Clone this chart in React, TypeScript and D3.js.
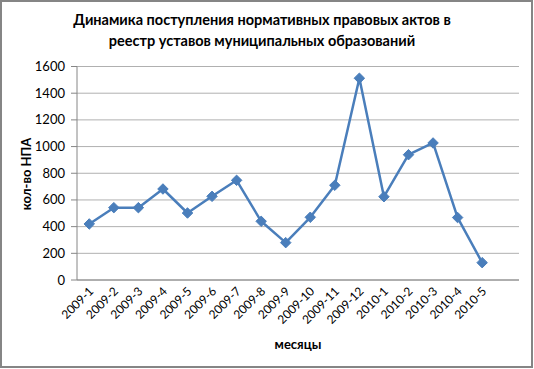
import React from "react";
import * as d3 from "d3";

const categories = ["2009-1","2009-2","2009-3","2009-4","2009-5","2009-6","2009-7","2009-8","2009-9","2009-10","2009-11","2009-12","2010-1","2010-2","2010-3","2010-4","2010-5"];
const values = [420, 542, 542, 682, 502, 627, 747, 440, 280, 470, 710, 1512, 624, 939, 1027, 468, 130];
const yTicks = [0, 200, 400, 600, 800, 1000, 1200, 1400, 1600];
const titleLines = ["Динамика поступления нормативных правовых  актов в", "реестр уставов муниципальных образований"];
const yTitle = "кол-во НПА";
const xTitle = "месяцы";

export default function App() {
  const W = 534, H = 369;
  const left = 77, right = 519, top = 66.5, bottom = 280;
  // 18 slots: last slot is empty, as in the reference
  const slots = [...categories, "__empty__"];
  const x = d3.scaleBand().domain(slots).range([left, right]);
  const y = d3.scaleLinear().domain([0, 1600]).range([bottom, top]);
  const cx = (c: string) => (x(c) as number) + x.bandwidth() / 2;
  const line = d3.line<number>().x((_, i) => cx(categories[i])).y(d => y(d));
  const font = "Lato, 'Open Sans', sans-serif";
  const diamond = d3.symbol().type(d3.symbolDiamond2).size(70)();
  return (
    <svg width={W} height={H} style={{ display: "block", position: "absolute", left: 0, top: 0 }}>
      <rect x={0} y={0} width={W} height={H} fill="#fff" />
      <rect x={1} y={1} width={W - 3} height={H - 3} fill="#fff" stroke="#858585" strokeWidth={2} />
      {titleLines.map((t, i) => (
        <text key={i} x={262} y={25 + i * 21} textAnchor="middle" fontFamily={font} fontWeight="bold" fontSize={14.5} fill="#000">{t}</text>
      ))}
      {yTicks.map(t => (
        <g key={t}>
          <line x1={left} x2={right} y1={y(t)} y2={y(t)} stroke="#b0b0b0" strokeWidth={1} />
          <line x1={left - 6} x2={left} y1={y(t)} y2={y(t)} stroke="#868686" strokeWidth={1} />
          <text x={left - 12} y={y(t)} dy="0.35em" textAnchor="end" fontFamily={font} fontSize={13} fill="#000">{t}</text>
        </g>
      ))}
      <line x1={left} x2={left} y1={top} y2={bottom} stroke="#868686" strokeWidth={1} />
      <line x1={left} x2={right} y1={bottom} y2={bottom} stroke="#868686" strokeWidth={1} />
      {categories.map(c => (
        <text key={c} transform={`translate(${cx(c) + 5},${bottom + 12}) rotate(-45)`} textAnchor="end" fontFamily={font} fontSize={12} fill="#000">{c}</text>
      ))}
      <path d={line(values) || ""} fill="none" stroke="#4a7ebb" strokeWidth={2.5} strokeLinejoin="round" />
      {values.map((v, i) => (
        <path key={i} d={diamond || ""} transform={`translate(${cx(categories[i])},${y(v)})`} fill="#4a7ebb" stroke="#4a7ebb" strokeWidth={1} />
      ))}
      <text transform={`translate(31,174) rotate(-90)`} textAnchor="middle" fontFamily={font} fontWeight="bold" fontSize={13} fill="#000">{yTitle}</text>
      <text x={(left + right) / 2} y={349} textAnchor="middle" fontFamily={font} fontWeight="bold" fontSize={13} fill="#000">{xTitle}</text>
    </svg>
  );
}
